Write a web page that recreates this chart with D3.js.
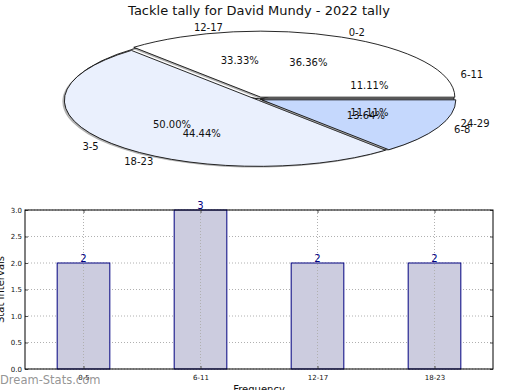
<!DOCTYPE html>
<html>
<head>
<meta charset="utf-8">
<script src="https://cdn.jsdelivr.net/npm/d3@7"></script>
<style>
body { margin: 0; background: #fff; }
text { font-family: "DejaVu Sans", sans-serif; }
</style>
</head>
<body>
<script>
// pie data (two overlaid pies)
var pieALabels = ["0-2", "3-5", "6-8"];
var pieAValues = [8, 11, 3];
var pieAColors = ["#ffffff", "#eaf0fd", "#c5d8fd"];

var pieBLabels = ["6-11", "12-17", "18-23", "24-29"];
var pieBValues = [1, 3, 4, 1];

// bar data
var barCats = ["0-5", "6-11", "12-17", "18-23"];
var barValues = [2, 3, 2, 2];
var yTicks = [0, 0.5, 1, 1.5, 2, 2.5, 3];

var width = 520, height = 390;
var svg = d3.select("body").append("svg")
    .attr("width", width)
    .attr("height", height);

// title
svg.append("text")
    .attr("x", 259).attr("y", 15)
    .attr("text-anchor", "middle")
    .attr("font-size", "13px")
    .attr("fill", "#111")
    .text("Tackle tally for David Mundy - 2022 tally");

// ---- pie ----
var cx = 260, cy = 99, rx = 194, ry = 66;

// matplotlib starts at east and goes counter clockwise
var pie = d3.pie().sort(null).value(function(d) { return d; })
    .startAngle(Math.PI / 2).endAngle(Math.PI / 2 - 2 * Math.PI);
var arc = d3.arc().innerRadius(0).outerRadius(1);

function drawPie(values, colors, explode) {
  var arcs = pie(values);
  var g = svg.append("g");
  arcs.forEach(function(a, i) {
    var mid = (a.startAngle + a.endAngle) / 2; // d3 angle
    var dx = explode * Math.sin(mid), dy = -explode * Math.cos(mid);
    // shadow
    g.append("path")
        .attr("d", arc(a))
        .attr("transform", "translate(" + (cx + dx - 2) + "," + (cy + dy + 1.2) + ") scale(" + rx + "," + ry + ")")
        .attr("fill", "#555")
        .attr("fill-opacity", 0.45);
    g.append("path")
        .attr("d", arc(a))
        .attr("transform", "translate(" + (cx + dx) + "," + (cy + dy) + ") scale(" + rx + "," + ry + ")")
        .attr("fill", colors[i % colors.length])
        .attr("stroke", "#111")
        .attr("stroke-width", 0.9)
        .attr("vector-effect", "non-scaling-stroke");
  });
  return arcs;
}

function pieLabels(arcs, labels) {
  arcs.forEach(function(a, i) {
    var mid = Math.PI / 2 - (a.startAngle + a.endAngle) / 2; // matplotlib angle
    var c = Math.cos(mid), s = Math.sin(mid);
    svg.append("text")
        .attr("x", cx + 1.1 * rx * c)
        .attr("y", cy - 1.1 * ry * s)
        .attr("dy", "0.35em")
        .attr("text-anchor", c >= 0 ? "start" : "end")
        .attr("font-size", "10px")
        .attr("fill", "#111")
        .text(labels[i]);
    var pct = (a.endAngle - a.startAngle) / (-2 * Math.PI) * 100;
    svg.append("text")
        .attr("x", cx + 0.6 * rx * c)
        .attr("y", cy - 0.6 * ry * s)
        .attr("dy", "0.35em")
        .attr("text-anchor", "middle")
        .attr("font-size", "10px")
        .attr("fill", "#111")
        .text(pct.toFixed(2) + "%");
  });
}

var arcsB = drawPie(pieBValues, ["#ffffff"], 0);
var arcsA = drawPie(pieAValues, pieAColors, 2);
pieLabels(arcsB, pieBLabels);
pieLabels(arcsA, pieALabels);

// ---- bar chart ----
var plotL = 25, plotR = 493, plotT = 210, plotB = 369;

var xScale = d3.scaleLinear().domain([-0.5, barCats.length - 0.5]).range([plotL, plotR]);
var yScale = d3.scaleLinear().domain([0, 3]).range([plotB, plotT]);
var barW = xScale(0.45) - xScale(0);

var chart = svg.append("g");

// grid
chart.selectAll(".hgrid").data(yTicks).enter().append("line")
    .attr("x1", plotL).attr("x2", plotR)
    .attr("y1", function(d) { return yScale(d); })
    .attr("y2", function(d) { return yScale(d); })
    .attr("stroke", "#b0b0b0").attr("stroke-width", 1)
    .attr("stroke-dasharray", "1,2");

// bars
chart.selectAll("rect").data(barValues).enter().append("rect")
    .attr("x", function(d, i) { return xScale(i) - barW / 2; })
    .attr("y", function(d) { return yScale(d); })
    .attr("width", barW)
    .attr("height", function(d) { return plotB - yScale(d); })
    .attr("fill", "#ccccdf")
    .attr("stroke", "#000080")
    .attr("stroke-width", 1);

chart.selectAll(".vgrid").data(barCats).enter().append("line")
    .attr("x1", function(d, i) { return xScale(i); })
    .attr("x2", function(d, i) { return xScale(i); })
    .attr("y1", plotT).attr("y2", plotB)
    .attr("stroke", "#b0b0b0").attr("stroke-width", 1)
    .attr("stroke-dasharray", "1,2");

// value labels
chart.selectAll(".val").data(barValues).enter().append("text")
    .attr("x", function(d, i) { return xScale(i); })
    .attr("y", function(d) { return yScale(d) - 1; })
    .attr("text-anchor", "middle")
    .attr("font-size", "10px")
    .attr("fill", "#000080")
    .text(function(d) { return d; });

// axes
var yAxis = d3.axisLeft(yScale).tickValues(yTicks).tickFormat(d3.format(".1f")).tickSize(-3).tickPadding(3);
var yG = chart.append("g").attr("transform", "translate(" + plotL + ",0)").call(yAxis);
var yG2 = chart.append("g").attr("transform", "translate(" + plotR + ",0)")
    .call(d3.axisRight(yScale).tickValues(yTicks).tickSize(-3).tickFormat(""));
var xAxis = d3.axisBottom(xScale).tickValues(d3.range(barCats.length))
    .tickFormat(function(d) { return barCats[d]; }).tickSize(-3).tickPadding(6);
var xG = chart.append("g").attr("transform", "translate(0," + plotB + ")").call(xAxis);
var xG2 = chart.append("g").attr("transform", "translate(0," + plotT + ")")
    .call(d3.axisTop(xScale).tickValues(d3.range(barCats.length)).tickSize(-3).tickFormat(""));

[yG, yG2, xG, xG2].forEach(function(g) {
  g.select(".domain").remove();
  g.selectAll("line").attr("stroke", "#555");
  g.selectAll("text").attr("font-size", "7px").attr("fill", "#111")
      .style("font-family", "DejaVu Sans, sans-serif");
});

chart.append("rect")
    .attr("x", plotL).attr("y", plotT)
    .attr("width", plotR - plotL).attr("height", plotB - plotT)
    .attr("fill", "none").attr("stroke", "#000").attr("stroke-width", 1);

// axis labels
svg.append("text")
    .attr("transform", "translate(4," + (plotT + plotB) / 2 + ") rotate(-90)")
    .attr("text-anchor", "middle")
    .attr("font-size", "10px")
    .attr("fill", "#111")
    .text("Stat Intervals");

svg.append("text")
    .attr("x", 259).attr("y", 393)
    .attr("text-anchor", "middle")
    .attr("font-size", "10px")
    .attr("fill", "#111")
    .text("Frequency");

// watermark
svg.append("text")
    .attr("x", 0).attr("y", 384)
    .attr("font-size", "11.5px")
    .attr("fill", "#888")
    .attr("fill-opacity", 0.9)
    .text("Dream-Stats.com");
</script>
</body>
</html>
